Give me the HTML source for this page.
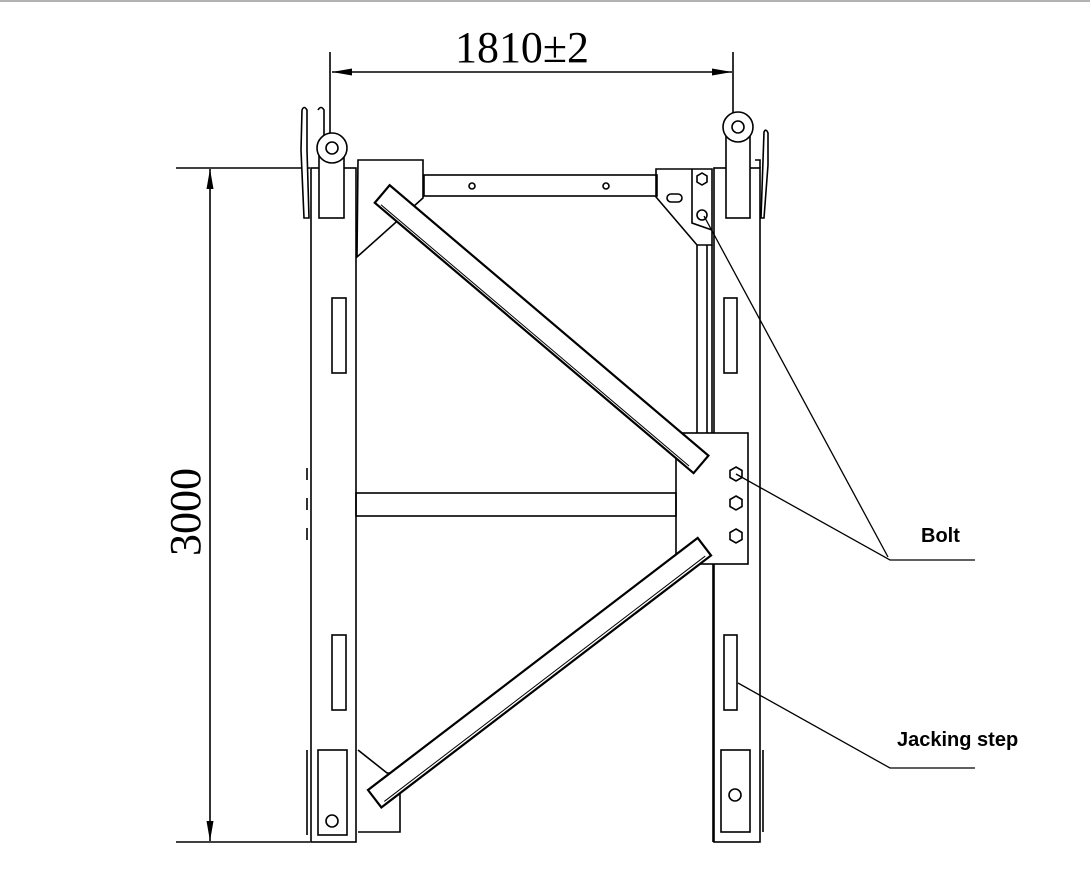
<!DOCTYPE html>
<html><head><style>html,body{margin:0;padding:0;background:#fff}svg{display:block}</style></head>
<body>
<svg width="1090" height="875" viewBox="0 0 1090 875" xmlns="http://www.w3.org/2000/svg">
<defs>
<marker id="ar" viewBox="0 0 20 10" refX="20" refY="5" markerWidth="40" markerHeight="10" markerUnits="userSpaceOnUse" orient="auto"><path d="M0,1.5 L20,5 L0,8.5 Z" fill="#000"/></marker>
</defs>
<line x1="0" y1="1" x2="1090" y2="1" stroke="#999" stroke-width="1.5"/>
<g fill="none" stroke="#000" stroke-width="1.6">
<line x1="330" y1="52" x2="330" y2="150"/>
<line x1="733" y1="52" x2="733" y2="130"/>
<line x1="372" y1="72" x2="332" y2="72" marker-end="url(#ar)"/>
<line x1="692" y1="72" x2="732" y2="72" marker-end="url(#ar)"/>
<line x1="372" y1="72" x2="692" y2="72"/>
<line x1="176" y1="168" x2="310" y2="168"/>
<line x1="176" y1="842" x2="310" y2="842"/>
<line x1="210" y1="210" x2="210" y2="169" marker-end="url(#ar)"/>
<line x1="210" y1="800" x2="210" y2="841" marker-end="url(#ar)"/>
<line x1="210" y1="210" x2="210" y2="800"/>

<rect x="311" y="168" width="45" height="674"/>
<path d="M302,110 Q304,105 307,110 L307,150 L309,218 L304,218 L301,150 Z" fill="#fff"/>
<path d="M318,110 Q321,105 324,110 L324,135"/>
<rect x="319" y="150" width="25" height="68" fill="#fff"/>
<circle cx="332" cy="148" r="15" fill="#fff"/>
<circle cx="332" cy="148" r="6"/>
<rect x="332" y="298" width="14" height="75"/>
<rect x="332" y="635" width="14" height="75"/>
<rect x="318" y="750" width="29" height="85"/>
<circle cx="332" cy="821" r="6"/>
<path d="M307,750 L307,835 M307,468 L307,480 M307,498 L307,510 M307,528 L307,540"/>

<path d="M358,160 L423,160 L423,198 L357,257 Z"/>
<rect x="424" y="175" width="233" height="21"/>
<circle cx="472" cy="186" r="3"/>
<circle cx="606" cy="186" r="3"/>
<path d="M656,169 L712,169 L712,245 L697,245 L656,197 Z"/>
<path d="M692,169 L692,223 L712,230"/>
<polygon points="702,173 707,176 707,182 702,185 697,182 697,176"/>
<circle cx="702" cy="215" r="5"/>
<rect x="667" y="194" width="15" height="8" rx="4"/>
<path d="M697,245 L697,433 M707,245 L707,433 M712,245 L712,433"/>
<rect x="714" y="168" width="46" height="674"/>
<path d="M764,132 Q766,128 768,133 L768,165 L764,218 L761,218 Z" fill="#fff"/>
<path d="M755,160 L760,160 L760,168"/>
<rect x="726" y="129" width="24" height="89" fill="#fff"/>
<circle cx="738" cy="127" r="15" fill="#fff"/>
<circle cx="738" cy="127" r="6"/>
<rect x="724" y="298" width="13" height="75"/>
<rect x="724" y="635" width="13" height="75"/>
<rect x="721" y="750" width="29" height="82"/>
<circle cx="735" cy="795" r="6"/>
<path d="M763,750 L763,832"/>
<rect x="676" y="433" width="72" height="131" fill="#fff"/>
<rect x="356" y="493" width="320" height="23"/>
<line x1="713" y1="564" x2="713" y2="842"/>
<path d="M358,750 L387,773 L400,773 L400,832 L358,832"/>
</g>
<g stroke="#000" stroke-width="2.2" fill="#fff">
<g transform="translate(389,186) rotate(40.3)">
<rect x="0" y="-1" width="418" height="23"/>
<line x1="6" y1="19.5" x2="410" y2="19.5" stroke-width="1"/>
</g>
<g transform="translate(368,790) rotate(-37.4)">
<rect x="0" y="0" width="415" height="22"/>
<line x1="6" y1="19" x2="410" y2="19" stroke-width="1"/>
</g>
</g>
<g fill="#fff" stroke="#000" stroke-width="1.6">
<polygon points="736,467 742,470.5 742,477.5 736,481 730,477.5 730,470.5"/>
<polygon points="736,496 742,499.5 742,506.5 736,510 730,506.5 730,499.5"/>
<polygon points="736,529 742,532.5 742,539.5 736,543 730,539.5 730,532.5"/>
</g>
<g fill="none" stroke="#000" stroke-width="1.3">
<path d="M736,474 L890,560 L975,560"/>
<path d="M704,216 L888,557"/>
<path d="M738,683 L890,768 L975,768"/>
</g>
<g font-family="Liberation Serif, serif" font-size="44" fill="#000">
<text x="522" y="62" text-anchor="middle" textLength="134" lengthAdjust="spacingAndGlyphs">1810±2</text>
<text transform="translate(200,512) rotate(-90)" text-anchor="middle" textLength="88" lengthAdjust="spacingAndGlyphs">3000</text>
</g>
<g font-family="Liberation Sans, sans-serif" font-size="20" font-weight="bold" fill="#000">
<text x="921" y="542">Bolt</text>
<text x="897" y="746">Jacking step</text>
</g>
</svg>
</body></html>
